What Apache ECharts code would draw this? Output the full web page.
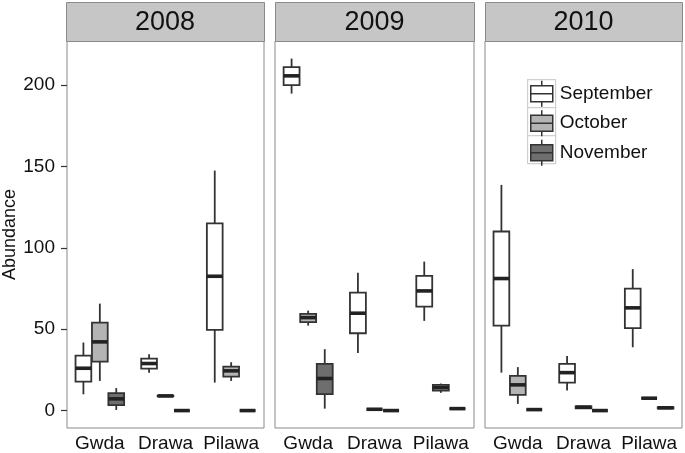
<!DOCTYPE html>
<html>
<head>
    <meta charset="utf-8">
    <title>Abundance boxplots</title>
    <script src="https://cdn.jsdelivr.net/npm/echarts@6/dist/echarts.min.js"></script>
</head>
<body style="margin:0">
<div id="main" style="width: 685px;height:453px;"></div>

<script type="text/javascript">
    // rivers on the x axis, one panel per year
    var categories = ['Gwda', 'Drawa', 'Pilawa'];
    var years = ['2008', '2009', '2010'];
    var months = ['September', 'October', 'November'];
    var yTicks = [0, 50, 100, 150, 200];

    // each box: [min, q1, median, q3, max], one per river
    var sep2008 = [[10, 17.8, 26, 33.8, 41.8], [23.3, 25.8, 28.9, 31.9, 34.6], [17.2, 49.6, 82.5, 115, 147.4]];
    var oct2008 = [[18.2, 30.1, 42.2, 54, 65.7], [8.6, 8.8, 9, 9.2, 9.4], [18.2, 20.9, 24.4, 27, 29.7]];
    var nov2008 = [[0.4, 3.3, 7.2, 10.7, 13.8], [0, 0, 0, 0, 0], [0, 0, 0, 0, 0]];

    var sep2009 = [[194.7, 199.9, 205.6, 210.9, 216.2], [35.3, 47.5, 59.8, 72.5, 84.6], [55.1, 63.9, 73.5, 82.7, 91.5]];
    var oct2009 = [[52.2, 54.3, 57.1, 59.4, 61.4], [0.8, 0.8, 0.8, 0.8, 0.8], [10.9, 12.3, 14.1, 15.8, 16.6]];
    var nov2009 = [[1.2, 10.1, 19.7, 28.7, 37.7], [0, 0, 0, 0, 0], [1.2, 1.2, 1.2, 1.2, 1.2]];

    var sep2010 = [[23.3, 52.2, 81.1, 110, 138.6], [12.3, 17.2, 23.3, 28.7, 33.6], [38.9, 50.6, 63.1, 74.9, 86.9]];
    var oct2010 = [[4.1, 9.6, 15.8, 21.3, 26.7], [1.0, 1.4, 2.1, 2.6, 3.0], [7.6, 7.6, 7.6, 7.6, 7.6]];
    var nov2010 = [[0.6, 0.6, 0.6, 0.6, 0.6], [0, 0, 0, 0, 0], [1.0, 1.3, 1.7, 2.0, 2.3]];

    var boxes = [
        [sep2008, oct2008, nov2008],
        [sep2009, oct2009, nov2009],
        [sep2010, oct2010, nov2010]
    ];

    var fills = ['#ffffff', '#b4b4b4', '#6e6e6e'];
    var font = 'Liberation Sans, Arial, sans-serif';

    // panel layout
    var panelLeft = [66, 275, 485];
    var panelWidth = [198, 199, 197];
    var panelTop = 41;
    var panelHeight = 387;
    var stripTop = 2;

    function makeRender(m) {
        return function (params, api) {
            var c = api.value(0);
            var x0 = api.coord([c, 0])[0];
            var slot = api.size([1, 0])[0] * 0.25;
            var cx = x0 + (m - 1) * slot;
            var half = slot * 0.48;
            var y = function (k) { return api.coord([c, api.value(k)])[1]; };
            var yMin = y(1), yQ1 = y(2), yMed = y(3), yQ3 = y(4), yMax = y(5);
            var ls = { stroke: '#333', lineWidth: 1.8 };
            return {
                type: 'group',
                children: [
                    { type: 'line', shape: { x1: cx, y1: yMax, x2: cx, y2: yQ3 }, style: ls },
                    { type: 'line', shape: { x1: cx, y1: yQ1, x2: cx, y2: yMin }, style: ls },
                    { type: 'rect', shape: { x: cx - half, y: yQ3, width: 2 * half, height: yQ1 - yQ3 },
                      style: { fill: fills[m], stroke: '#333', lineWidth: 1.8 } },
                    { type: 'line', shape: { x1: cx - half, y1: yMed, x2: cx + half, y2: yMed },
                      style: { stroke: '#222', lineWidth: 3.6 } }
                ]
            };
        };
    }

    var grids = [], xAxes = [], yAxes = [], series = [], graphics = [];
    years.forEach(function (yr, g) {
        grids.push({
            left: panelLeft[g], top: panelTop, width: panelWidth[g], height: panelHeight,
            show: true, borderColor: '#8a8a8a', borderWidth: 1, backgroundColor: '#fff'
        });
        xAxes.push({
            type: 'category', gridIndex: g, data: categories,
            axisLine: { show: false },
            axisTick: { alignWithLabel: true, length: 5, lineStyle: { color: '#333', width: 1.2 } },
            axisLabel: { color: '#111', fontSize: 19, fontFamily: font, margin: 6, interval: 0 }
        });
        yAxes.push({
            type: 'value', gridIndex: g, min: -10.7, max: 227,
            name: g === 0 ? 'Abundance' : '',
            nameLocation: 'middle', nameGap: 48,
            nameTextStyle: { color: '#111', fontSize: 18, fontFamily: font },
            splitLine: { show: false },
            axisLine: { show: false },
            axisTick: { show: g === 0, length: 6, customValues: yTicks, lineStyle: { color: '#333', width: 1.2 } },
            axisLabel: { show: g === 0, customValues: yTicks, color: '#111', fontSize: 19, fontFamily: font, margin: 12 }
        });
        months.forEach(function (mn, m) {
            series.push({
                type: 'custom', name: mn, xAxisIndex: g, yAxisIndex: g,
                itemStyle: { color: fills[m], borderColor: '#333', borderWidth: 1.5 },
                renderItem: makeRender(m),
                encode: { x: 0, y: [1, 2, 3, 4, 5] },
                data: boxes[g][m].map(function (b, i) { return [i].concat(b); })
            });
        });
        // facet strip
        graphics.push({
            type: 'rect', left: panelLeft[g], top: stripTop,
            shape: { width: panelWidth[g], height: panelTop - stripTop },
            style: { fill: '#c6c6c6', stroke: '#8a8a8a', lineWidth: 1 }
        });
        graphics.push({
            type: 'text', x: panelLeft[g] + panelWidth[g] / 2, y: (stripTop + panelTop) / 2 + 1,
            style: { text: yr, fill: '#111', fontSize: 27, fontFamily: font, align: 'center', verticalAlign: 'middle' }
        });
    });

    // legend key frames
    [0, 1, 2].forEach(function (k) {
        graphics.push({
            type: 'rect', left: 527, top: 79 + k * 28, z: 1,
            shape: { width: 28, height: 28 },
            style: { fill: '#fff', stroke: '#cfcfcf', lineWidth: 1.2 }
        });
    });

    var icon = 'path://M11,0L11,5M0,5L22,5L22,21L0,21ZM0,13L22,13M11,21L11,26';

    var myChart = echarts.init(document.getElementById('main'));
    var option = {
        animation: false,
        backgroundColor: '#fff',
        grid: grids,
        xAxis: xAxes,
        yAxis: yAxes,
        graphic: graphics,
        legend: {
            orient: 'vertical', left: 530, top: 80, padding: 0,
            itemWidth: 22, itemHeight: 26, itemGap: 2, z: 10,
            selectedMode: false,
            textStyle: { color: '#111', fontSize: 19, fontFamily: font, padding: [0, 0, 0, 2] },
            data: months.map(function (mn, m) {
                return { name: mn, icon: icon, itemStyle: { color: fills[m], borderColor: '#333', borderWidth: 1.5 } };
            })
        },
        series: series
    };
    myChart.setOption(option);
</script>
</body>
</html>
